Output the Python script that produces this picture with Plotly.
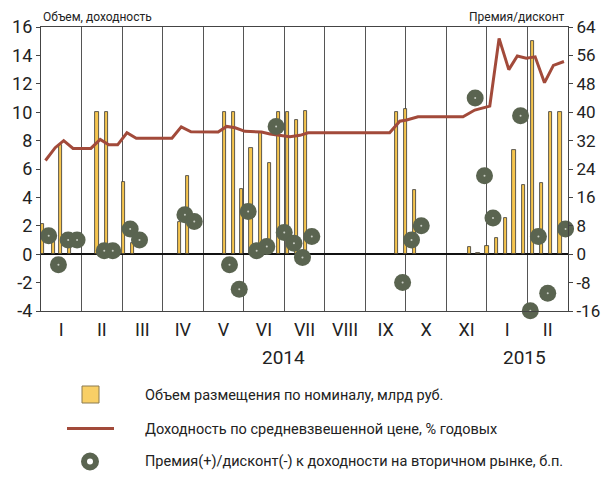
import plotly.graph_objects as go

# ---- data (x in month units from start of Jan 2014; 13 month intervals) ----
month_labels = ["I", "II", "III", "IV", "V", "VI", "VII", "VIII", "IX", "X", "XI", "I", "II"]
year_labels = ["2014", "2015"]
year_pos = [5.97, 11.93]
left_ticks = [-4, -2, 0, 2, 4, 6, 8, 10, 12, 14, 16]
right_ticks = [-16, -8, 0, 8, 16, 24, 32, 40, 48, 56, 64]

bar_x = [0.03, 0.30, 0.49, 0.71, 1.38, 1.61, 2.03, 2.25, 3.41, 3.62,
         4.52, 4.74, 4.95, 5.18, 5.41, 5.63, 5.85, 6.08, 6.31, 6.53,
         8.77, 8.99, 9.22,
         10.57, 10.78, 11.00, 11.23, 11.45, 11.67, 11.90, 12.12, 12.35, 12.57, 12.80]
bar_volume = [2.1, 1.0, 7.7, 1.0, 10.0, 10.0, 5.1, 0.8, 2.3, 5.5,
              10.0, 10.0, 4.6, 7.5, 8.6, 6.4, 10.0, 10.0, 9.45, 10.1,
              10.0, 10.2, 4.5,
              0.5, 0.05, 0.6, 1.15, 2.55, 7.35, 4.9, 15.0, 5.0, 10.0, 10.0]

line_x = [0.11, 0.35, 0.56, 0.79, 1.23, 1.46, 1.67, 1.89, 2.12, 2.35, 3.23, 3.46, 3.70,
          4.37, 4.58, 4.79, 5.03, 5.44, 5.65, 5.89, 6.14, 6.39, 6.59, 8.60, 8.85, 9.02,
          9.30, 10.41, 10.70, 11.07, 11.30, 11.54, 11.75, 11.97, 12.19, 12.42, 12.64, 12.90]
line_yield = [6.6, 7.5, 8.0, 7.45, 7.45, 8.08, 7.7, 7.7, 8.55, 8.17, 8.17, 8.97, 8.62,
              8.6, 9.0, 8.9, 8.65, 8.6, 8.47, 8.4, 8.28, 8.37, 8.55, 8.55, 9.37, 9.45,
              9.68, 9.68, 10.15, 10.43, 15.2, 13.0, 13.96, 13.8, 13.9, 12.08, 13.3, 13.57]

dot_x = [0.19, 0.43, 0.67, 0.89, 1.56, 1.77, 2.20, 2.43, 3.55, 3.78,
         4.65, 4.89, 5.11, 5.32, 5.57, 5.80, 6.00, 6.24, 6.45, 6.68,
         8.92, 9.14, 9.38, 10.71, 10.94, 11.15, 11.83, 12.07, 12.27, 12.50, 12.94]
dot_premium = [5.2, -3.0, 4.0, 4.0, 1.0, 1.0, 7.1, 4.0, 11.1, 9.2,
               -3.0, -9.9, 12.0, 1.0, 2.15, 36.0, 6.1, 3.1, -0.95, 5.0,
               -8.0, 4.0, 8.0, 44.0, 22.1, 10.2, 39.0, -15.9, 5.0, -11.0, 7.1]

legend_texts = ["Объем размещения по номиналу, млрд руб.",
                "Доходность по средневзвешенной цене, % годовых",
                "Премия(+)/дисконт(-) к доходности на вторичном рынке, б.п."]

# ---- style ----
FONT = "Roboto, Liberation Sans, sans-serif"
BAR_C = "#F6C54E"
LINE_C = "#A24A3A"
DOT_C = "#5A6450"
OFF = 8  # page body margin offset of the figure inside the browser window
W, H = 609 - OFF, 480 - OFF
# plot area in window pixels: x 41..568, y 27..311
L, R, T, B = 41 - OFF, 609 - 568, 27 - OFF, 480 - 311
PW, PH = W - L - R, H - T - B


def px(xp):  # window pixel x -> paper
    return (xp - OFF - L) / PW


def py(yp):  # window pixel y -> paper
    return (H - B - (yp - OFF)) / PH


fig = go.Figure()
fig.add_trace(go.Bar(x=bar_x, y=bar_volume, width=0.08,
                     marker=dict(color=BAR_C, line=dict(color="#333333", width=0.8)),
                     showlegend=False))
fig.add_trace(go.Scatter(x=line_x, y=line_yield, mode="lines",
                         line=dict(color=LINE_C, width=3), showlegend=False))
fig.add_trace(go.Scatter(x=dot_x, y=dot_premium, mode="markers", yaxis="y2",
                         marker=dict(size=17, color=DOT_C, line=dict(width=0)),
                         cliponaxis=False, showlegend=False))
fig.add_trace(go.Scatter(x=dot_x, y=dot_premium, mode="markers", yaxis="y2",
                         marker=dict(size=2, color="#C9CDC3"),
                         cliponaxis=False, showlegend=False))

shapes = []
# legend swatches
shapes.append(dict(type="rect", xref="paper", yref="paper",
                   x0=px(82), x1=px(99), y0=py(403), y1=py(386),
                   fillcolor="#F8CF66", line=dict(color="#8a7a50", width=1)))
shapes.append(dict(type="line", xref="paper", yref="paper",
                   x0=px(67), x1=px(114), y0=py(428.5), y1=py(428.5),
                   line=dict(color=LINE_C, width=3)))
shapes.append(dict(type="circle", xref="paper", yref="paper",
                   x0=px(81), x1=px(99), y0=py(470.5), y1=py(452.5),
                   fillcolor=DOT_C, line=dict(width=0)))
shapes.append(dict(type="circle", xref="paper", yref="paper",
                   x0=px(87), x1=px(93), y0=py(464.5), y1=py(458.5),
                   fillcolor="white", line=dict(width=0)))

annotations = []
for t, yy in zip(legend_texts, [395, 429, 461]):
    annotations.append(dict(text=t, xref="paper", yref="paper", x=px(143), y=py(yy),
                            xanchor="left", yanchor="middle", showarrow=False,
                            font=dict(family=FONT, size=14.5, color="#222")))
for t, xx in zip(year_labels, year_pos):
    annotations.append(dict(text=t, xref="x", yref="paper", x=xx, y=py(357),
                            xanchor="center", yanchor="middle", showarrow=False,
                            font=dict(family=FONT, size=19, color="#222")))
annotations.append(dict(text="Объем, доходность", xref="paper", yref="paper",
                        x=px(41), y=py(17), xanchor="left", yanchor="middle",
                        showarrow=False, font=dict(family=FONT, size=12, color="#222")))
annotations.append(dict(text="Премия/дисконт", xref="paper", yref="paper",
                        x=px(567), y=py(17), xanchor="right", yanchor="middle",
                        showarrow=False, font=dict(family=FONT, size=12, color="#222")))

fig.update_layout(
    width=W, height=H, margin=dict(l=L, r=R, t=T, b=B, autoexpand=False),
    paper_bgcolor="white", plot_bgcolor="white",
    bargap=0, showlegend=False,
    font=dict(family=FONT, color="#222"),
    xaxis=dict(range=[0, 13], tickvals=[i + 0.5 for i in range(13)], ticktext=month_labels,
               ticks="", showgrid=False, zeroline=False, automargin=False,
               showline=True, mirror=True, linecolor="#444", linewidth=1.3,
               ticklabelstandoff=2,
               tickfont=dict(family=FONT, size=18, color="#222"),
               minor=dict(tickvals=list(range(1, 13)), showgrid=True,
                          gridcolor="#555", gridwidth=1, ticks="")),
    yaxis=dict(range=[-4, 16], tickvals=left_ticks, ticktext=[str(v) for v in left_ticks],
               ticks="outside", ticklen=4, tickcolor="#444",
               showgrid=False, zeroline=True, zerolinecolor="#111", zerolinewidth=1.5,
               showline=True, mirror=True, linecolor="#444", linewidth=1.3,
               automargin=False,
               tickfont=dict(family=FONT, size=18, color="#222")),
    yaxis2=dict(range=[-16, 64], tickvals=right_ticks, ticktext=[str(v) for v in right_ticks],
                overlaying="y", side="right",
                ticks="outside", ticklen=4, tickcolor="#444", automargin=False,
                ticklabelstandoff=0,
                showgrid=False, zeroline=False, showline=False,
                tickfont=dict(family=FONT, size=17, color="#222")),
    shapes=shapes, annotations=annotations,
)

fig.write_html("out.html")
